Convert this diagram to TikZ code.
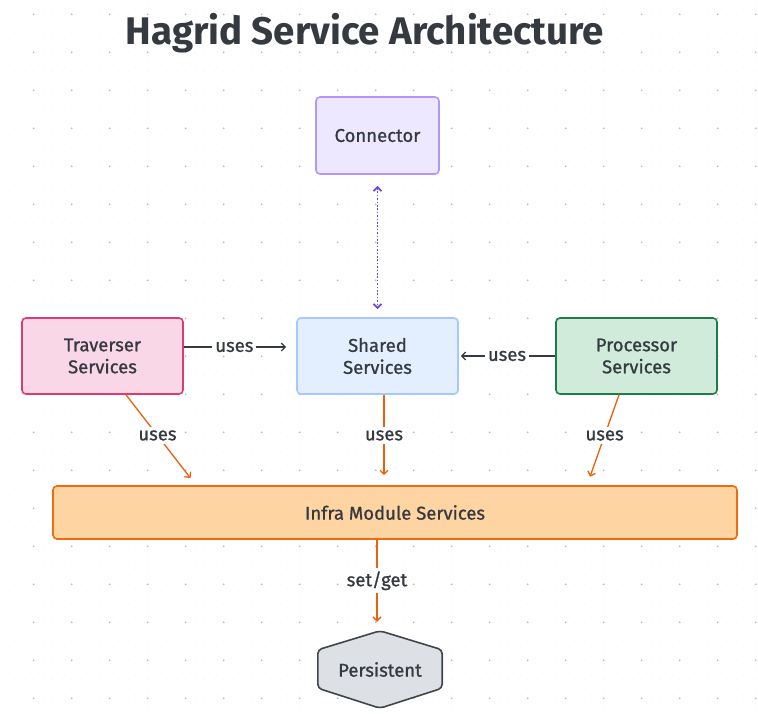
\documentclass[tikz,border=0pt]{standalone}
\usepackage{fontspec}
\setmainfont{Fira Sans}
\newfontfamily\heavyface{Fira Sans}[FakeBold=0.9]
\usetikzlibrary{positioning}
\usetikzlibrary{arrows.meta}
\pgfdeclarelayer{grid}
\pgfdeclarelayer{background}
\pgfsetlayers{grid,background,main}

\definecolor{ink}{HTML}{343A40}
\definecolor{connfill}{HTML}{EDE8FF}
\definecolor{connline}{HTML}{B197FC}
\definecolor{sharedfill}{HTML}{E3EFFF}
\definecolor{sharedline}{HTML}{A5C8FF}
\definecolor{travfill}{HTML}{FAD7E6}
\definecolor{travline}{HTML}{DD3A78}
\definecolor{procfill}{HTML}{D0EBD9}
\definecolor{procline}{HTML}{1E7D46}
\definecolor{infrafill}{HTML}{FFD4A3}
\definecolor{infraline}{HTML}{F06A0E}
\definecolor{persfill}{HTML}{DDE0E4}
\definecolor{persline}{HTML}{40454C}
\definecolor{violet}{HTML}{6D45E0}
\definecolor{orangeline}{HTML}{EC600C}

\newcommand{\labelfont}{\heavyface\fontsize{18.5}{22}\selectfont}

\begin{document}
\begin{tikzpicture}[
							x=1pt, y=-1pt,
							servicebox/.style={rectangle, rounded corners=4pt, line width=1.6pt, minimum width=161pt, minimum height=76pt, align=center, font=\labelfont, text=ink},
							edgelabel/.style={fill=white, inner sep=3pt, font=\labelfont, text=ink},
							useline/.style={line width=1.3pt, draw=ink, -{Straight Barb[length=4pt,width=8pt]}},
							infraline/.style={line width=1.3pt, draw=orangeline, -{Straight Barb[length=4pt,width=8pt]}},
							duplex/.style={line width=1.8pt, draw=violet, dash pattern=on 1.6pt off 1.8pt, {Straight Barb[length=4pt,width=8pt]}-{Straight Barb[length=4pt,width=8pt]}},
							]
							\useasboundingbox (0,0) rectangle (758,713);
							%Nodes
							\node[font=\fontsize{38.5}{46}\selectfont\bfseries, text=ink, anchor=base]  (title)  at (365,44) {Hagrid Service Architecture};
							\node[servicebox, fill=connfill, draw=connline, minimum width=123pt, minimum height=77pt]    (conn)   at (377.5,135.5) {Connector};
							\node[servicebox, fill=travfill, draw=travline]        (trav)   at (102.5,356)   {Traverser\\Services};
							\node[servicebox, fill=sharedfill, draw=sharedline]    (shared) at (377.5,356)   {Shared\\Services};
							\node[servicebox, fill=procfill, draw=procline]        (proc)   at (636.5,356)   {Processor\\Services};
							\node[servicebox, fill=infrafill, draw=infraline, minimum width=684pt, minimum height=53pt] (infra) at (395,512.5) {Infra Module Services};
							\node[font=\labelfont, text=ink, minimum width=124pt, minimum height=77pt, inner sep=0pt]   (pers)   at (380,669.5)   {Persistent};

							%Connectors
							\draw[duplex, shorten <=11pt, shorten >=8pt] (conn.south) -- (shared.north);
							\draw[useline, shorten >=10pt] ([yshift=9pt]trav.east) -- node[edgelabel, pos=0.45] {uses} ([yshift=9pt]shared.west);
							\draw[useline, shorten >=2pt] (proc.west) -- node[edgelabel] {uses} (shared.east);
							\draw[infraline, shorten >=9pt] ([xshift=23.5pt]trav.south) -- node[edgelabel, pos=0.45] {uses} ([xshift=-199pt]infra.north);
							\draw[infraline, shorten >=10pt] ([xshift=6.5pt]shared.south) -- node[edgelabel, pos=0.45] {uses} ([xshift=6.5pt]shared.south |- infra.north);
							\draw[infraline, shorten >=9pt] ([xshift=-17.5pt]proc.south) -- node[edgelabel, pos=0.45] {uses} ([xshift=192pt]infra.north);
							\draw[infraline, shorten >=9pt] ([xshift=-3pt]pers.north |- infra.south) -- node[edgelabel, pos=0.45] {set/get} ([xshift=-3pt]pers.north);

							\begin{pgfonlayer}{background}
							\draw[fill=persfill, draw=persline, line width=1.6pt, rounded corners=4pt] (pers.north) -- ([yshift=-19pt]pers.north east) -- ([yshift=20pt]pers.south east) -- (pers.south) -- ([yshift=20pt]pers.south west) -- ([yshift=-19pt]pers.north west) -- cycle;
							\end{pgfonlayer}

							\begin{pgfonlayer}{grid}
							\foreach \i in {0,...,79}
								\foreach \j in {0,...,74}
									\fill[black!7] (5.2+9.5*\i, 4.8+9.5*\j) circle[radius=0.5pt];
							\foreach \i in {0,...,19}
								\foreach \j in {0,...,18}
									\fill[black!30] (33.7+38*\i, 14.3+38*\j) circle[radius=0.9pt];
							\end{pgfonlayer}
						\end{tikzpicture}
\end{document}
